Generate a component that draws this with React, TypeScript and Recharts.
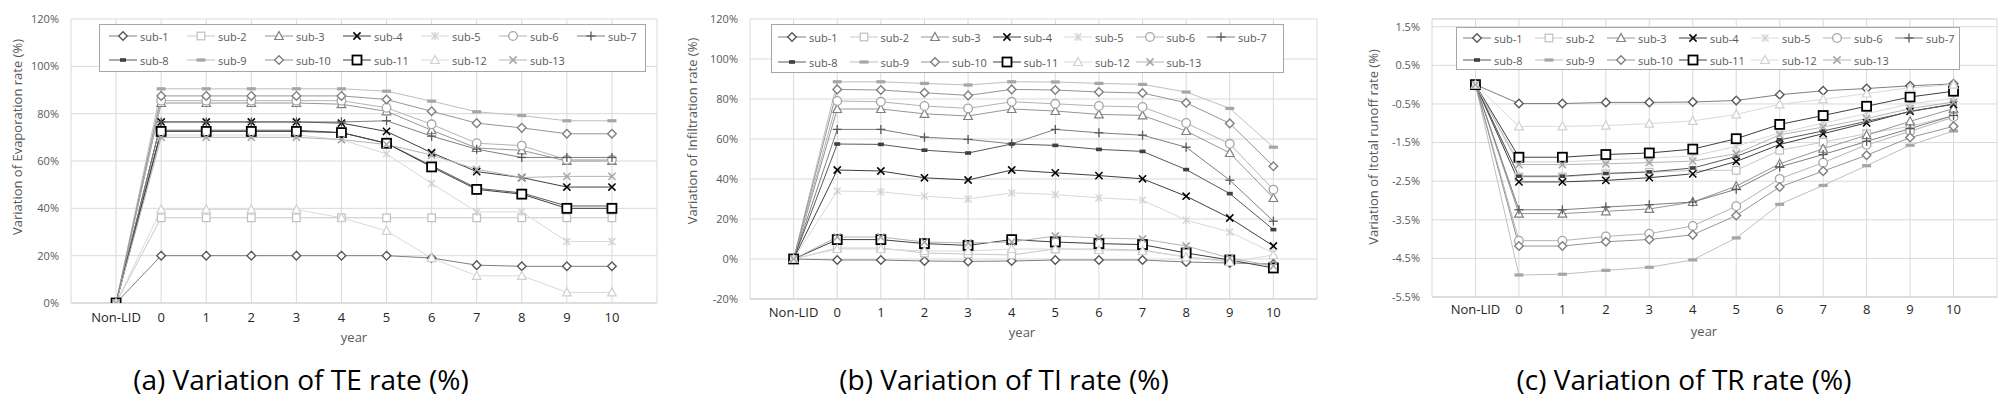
import React from "react";
import { LineChart, Line, XAxis, YAxis, CartesianGrid, ReferenceLine } from "recharts";

// x categories (Non-LID + years 0..10)
const CATEGORIES = ["Non-LID", "0", "1", "2", "3", "4", "5", "6", "7", "8", "9", "10"];
const X_TICKS = [-1, 0, 1, 2, 3, 4, 5, 6, 7, 8, 9, 10, 11, 12];

const SUBS = ["sub-1", "sub-2", "sub-3", "sub-4", "sub-5", "sub-6", "sub-7", "sub-8", "sub-9", "sub-10", "sub-11", "sub-12", "sub-13"];

const TE_TICKS = [0, 20, 40, 60, 80, 100, 120];
const TI_TICKS = [-20, 0, 20, 40, 60, 80, 100, 120];
const TR_TICKS = [-5.5, -4.5, -3.5, -2.5, -1.5, -0.5, 0.5, 1.5];

// (a) variation of evaporation rate (%), one row per sub-catchment
const TE_VALUES = [
  [0, 20, 20, 20, 20, 20, 20, 19, 16, 15.5, 15.5, 15.5],
  [0, 36, 36, 36, 36, 36, 36, 36, 36, 36, 36, 36],
  [0, 84.5, 84.5, 84.5, 84.5, 84, 81, 73, 65.5, 64.5, 60, 60],
  [0, 76.5, 76.5, 76.5, 76.5, 76, 72.5, 63.5, 55.5, 53, 49, 49],
  [0, 71, 71, 71, 71, 69, 63, 50.5, 38.5, 38.5, 26, 26],
  [0, 85.5, 85.5, 85.5, 85.5, 85.5, 82.5, 75.5, 67.5, 66.5, 60.5, 60.5],
  [0, 76.5, 76.5, 76.5, 76.5, 76.5, 77, 70.5, 65, 61.5, 61.5, 61.5],
  [0, 73, 73, 73, 73, 72, 67.5, 58, 48.5, 46.5, 41, 41],
  [0, 90.5, 90.5, 90.5, 90.5, 90.5, 89.5, 85.3, 80.8, 79.2, 77, 77],
  [0, 87.5, 87.5, 87.5, 87.5, 87.5, 86, 81, 76, 74, 71.5, 71.5],
  [0, 72.5, 72.5, 72.5, 72.5, 72, 67.5, 57.5, 48, 46, 40, 40],
  [0, 39.5, 39.5, 39.5, 39.5, 36, 30.5, 19, 11.5, 11.5, 4.5, 4.5],
  [0, 70, 70, 70, 70, 69, 67, 62.5, 56.5, 53, 53.5, 53.5],
];

// (b) variation of infiltration rate (%)
const TI_VALUES = [
  [0, -0.5, -0.5, -1, -1.2, -1, -0.5, -0.5, -0.5, -1.5, -2, -2.5],
  [0, 5.5, 5.5, 3, 2.5, 2, 5, 5, 4.5, 1, -1, -3.5],
  [0, 75, 75, 72.6, 71.5, 75, 74, 72.3, 71.8, 64, 53, 30.5],
  [0, 44.5, 44, 40.6, 39.5, 44.5, 43.1, 41.7, 40.1, 31.4, 20.5, 6.5],
  [0, 34, 33.6, 31.4, 30, 33.1, 32.2, 30.6, 29.4, 19.4, 13.5, 3],
  [0, 79, 78.6, 76.5, 75.3, 78.6, 77.6, 76.5, 76, 68, 57.6, 34.7],
  [0, 64.8, 64.8, 60.9, 59.8, 57.6, 64.8, 63.1, 61.9, 55.9, 39.4, 18.9],
  [0, 57.5, 57.3, 54.4, 53, 57.5, 56.8, 54.8, 53.8, 44.7, 32.7, 14.7],
  [0, 88.6, 88.6, 87.8, 87, 88.6, 88.5, 87.8, 87.3, 83.5, 75.3, 55.9],
  [0, 84.8, 84.5, 83.1, 81.8, 84.8, 84.5, 83.5, 83, 78.1, 67.8, 46.4],
  [0, 9.7, 9.7, 7.7, 6.8, 9.7, 8.5, 7.7, 7.2, 3, -0.5, -4.5],
  [0, 5, 5, 4, 4, 5, 5, 4.5, 4, 1, -1.5, 2],
  [0, 11, 11, 8.5, 8, 8.5, 11.5, 10.5, 10, 6.5, 0.5, -3.5],
];

// (c) variation of total runoff rate (%)
const TR_VALUES = [
  [0, -0.49, -0.49, -0.46, -0.46, -0.45, -0.41, -0.26, -0.16, -0.1, -0.03, 0.02],
  [0, -2.39, -2.39, -2.31, -2.27, -2.22, -2.22, -1.7, -1.49, -1.27, -1.08, -0.8],
  [0, -3.34, -3.34, -3.28, -3.22, -3.04, -2.63, -2.05, -1.66, -1.31, -0.95, -0.62],
  [0, -2.52, -2.52, -2.48, -2.41, -2.31, -1.99, -1.55, -1.27, -0.99, -0.69, -0.51],
  [0, -2.0, -2.0, -1.95, -1.9, -1.85, -1.6, -1.25, -1.0, -0.75, -0.5, -0.35],
  [0, -4.04, -4.04, -3.93, -3.86, -3.66, -3.15, -2.44, -2.02, -1.56, -1.21, -0.84],
  [0, -3.24, -3.24, -3.17, -3.11, -3.04, -2.71, -2.13, -1.81, -1.47, -1.14, -0.8],
  [0, -2.37, -2.37, -2.3, -2.26, -2.16, -1.86, -1.43, -1.2, -0.95, -0.7, -0.5],
  [0, -4.93, -4.91, -4.81, -4.73, -4.54, -3.97, -3.1, -2.61, -2.1, -1.57, -1.2],
  [0, -4.18, -4.18, -4.07, -4.01, -3.89, -3.39, -2.65, -2.24, -1.83, -1.37, -1.08],
  [0, -1.88, -1.88, -1.81, -1.77, -1.67, -1.4, -1.03, -0.8, -0.56, -0.32, -0.17],
  [0, -1.08, -1.08, -1.06, -1.01, -0.94, -0.77, -0.51, -0.38, -0.23, -0.08, 0.0],
  [0, -2.07, -2.07, -2.05, -2.02, -1.98, -1.79, -1.3, -1.1, -0.88, -0.62, -0.45],
];

type Shape = "diamond" | "square" | "triangle" | "x" | "star" | "circle" | "plus" | "dot" | "dash";

const SERIES_STYLE: { shape: Shape; color: string; line: string; bold?: boolean }[] = [
  { shape: "diamond", color: "#595959", line: "#7f7f7f" },
  { shape: "square", color: "#bfbfbf", line: "#c8c8c8" },
  { shape: "triangle", color: "#7f7f7f", line: "#969696" },
  { shape: "x", color: "#000000", line: "#404040" },
  { shape: "star", color: "#d0d0d0", line: "#d9d9d9" },
  { shape: "circle", color: "#a6a6a6", line: "#b4b4b4" },
  { shape: "plus", color: "#595959", line: "#7f7f7f" },
  { shape: "dot", color: "#404040", line: "#595959" },
  { shape: "dash", color: "#a6a6a6", line: "#bfbfbf" },
  { shape: "diamond", color: "#808080", line: "#969696" },
  { shape: "square", color: "#000000", line: "#404040", bold: true },
  { shape: "triangle", color: "#d0d0d0", line: "#dadada" },
  { shape: "x", color: "#a6a6a6", line: "#b4b4b4" },
];

const FONT = "'Open Sans', 'Noto Sans', sans-serif";

function Marker({ shape, cx, cy, color, bold }: { shape: Shape; cx: number; cy: number; color: string; bold?: boolean }) {
  const r = 4.3;
  switch (shape) {
    case "diamond":
      return (
        <polygon
          points={`${cx},${cy - r} ${cx + r},${cy} ${cx},${cy + r} ${cx - r},${cy}`}
          fill="#fff"
          stroke={color}
          strokeWidth={1.4}
        />
      );
    case "square":
      return bold ? (
        <rect x={cx - 4.5} y={cy - 4.5} width={9} height={9} fill="#fff" stroke={color} strokeWidth={1.8} />
      ) : (
        <rect x={cx - 3.8} y={cy - 3.8} width={7.6} height={7.6} fill="#fff" stroke={color} strokeWidth={1.2} />
      );
    case "triangle":
      return (
        <polygon
          points={`${cx},${cy - 4.5} ${cx + 4.3},${cy + 3.5} ${cx - 4.3},${cy + 3.5}`}
          fill="#fff"
          stroke={color}
          strokeWidth={1.2}
        />
      );
    case "x":
      return (
        <g stroke={color} strokeWidth={1.5}>
          <line x1={cx - 3.6} y1={cy - 3.6} x2={cx + 3.6} y2={cy + 3.6} />
          <line x1={cx - 3.6} y1={cy + 3.6} x2={cx + 3.6} y2={cy - 3.6} />
        </g>
      );
    case "star":
      return (
        <g stroke={color} strokeWidth={1.2}>
          <line x1={cx - 3.5} y1={cy - 3.5} x2={cx + 3.5} y2={cy + 3.5} />
          <line x1={cx - 3.5} y1={cy + 3.5} x2={cx + 3.5} y2={cy - 3.5} />
          <line x1={cx} y1={cy - 4} x2={cx} y2={cy + 4} />
        </g>
      );
    case "circle":
      return <circle cx={cx} cy={cy} r={4.3} fill="#fff" stroke={color} strokeWidth={1.3} />;
    case "plus":
      return (
        <g stroke={color} strokeWidth={1.3}>
          <line x1={cx - 4.5} y1={cy} x2={cx + 4.5} y2={cy} />
          <line x1={cx} y1={cy - 4.5} x2={cx} y2={cy + 4.5} />
        </g>
      );
    case "dot":
      return <rect x={cx - 3} y={cy - 1.8} width={6} height={3.6} fill={color} />;
    case "dash":
      return <rect x={cx - 4.5} y={cy - 1.6} width={9} height={3.2} fill={color} />;
  }
  return null;
}

type PanelProps = {
  left: number;
  width: number;
  rightMargin: number;
  yAxisWidth: number;
  xAxisHeight: number;
  xTickMargin: number;
  domain: [number, number];
  ticks: number[];
  fmt: (v: number) => string;
  topLine?: number;
  values: number[][];
  yTitle: string;
  yTitlePos: [number, number];
  yearPos: [number, number];
  legend: { left: number; top: number; width: number; height: number; pad: number; pitch: number; rows: [number, number] };
};

function Panel(p: PanelProps) {
  const data = CATEGORIES.map((name, i) => {
    const row: Record<string, number | string> = { x: i, name };
    SUBS.forEach((s, j) => {
      row[s] = p.values[j][i];
    });
    return row;
  });

  return (
    <div style={{ position: "absolute", left: p.left, top: 0, width: p.width, height: 345 }}>
      <LineChart
        width={p.width}
        height={345}
        data={data}
        margin={{ top: 19, right: p.rightMargin, left: 0, bottom: 0 }}
        style={{ fontFamily: FONT }}
      >
        <CartesianGrid stroke="#d9d9d9" />
        <XAxis
          dataKey="x"
          type="number"
          domain={[-1, 12]}
          ticks={X_TICKS}
          interval={0}
          allowDataOverflow
          tickFormatter={(v: number) => CATEGORIES[v] ?? ""}
          height={p.xAxisHeight}
          tickSize={0}
          tickMargin={p.xTickMargin}
          axisLine={{ stroke: "#d0d0d0" }}
          tick={{ fill: "#262626", fontSize: 13 }}
          label={{
            content: () => (
              <text x={p.yearPos[0]} y={p.yearPos[1]} textAnchor="middle" dominantBaseline="central" fill="#595959" fontSize={13}>
                year
              </text>
            ),
          }}
        />
        <YAxis
          type="number"
          domain={p.domain}
          ticks={p.ticks}
          interval={0}
          allowDataOverflow
          width={p.yAxisWidth}
          tickSize={0}
          tickMargin={12}
          axisLine={false}
          tickFormatter={p.fmt}
          tick={{ fill: "#595959", fontSize: 11 }}
          label={{
            content: () => (
              <text
                x={p.yTitlePos[0]}
                y={p.yTitlePos[1]}
                transform={`rotate(-90, ${p.yTitlePos[0]}, ${p.yTitlePos[1]})`}
                textAnchor="middle"
                dominantBaseline="central"
                fill="#595959"
                fontSize={13}
              >
                {p.yTitle}
              </text>
            ),
          }}
        />
        {p.topLine !== undefined && <ReferenceLine y={p.topLine} stroke="#d9d9d9" />}
        {SUBS.map((s, j) => {
          const st = SERIES_STYLE[j];
          return (
            <Line
              key={s}
              dataKey={s}
              stroke={st.line}
              strokeWidth={1}
              isAnimationActive={false}
              activeDot={false}
              dot={(d: { cx?: number; cy?: number; index?: number }) => (
                <g key={`${s}-${d.index}`}>
                  <Marker shape={st.shape} cx={d.cx ?? 0} cy={d.cy ?? 0} color={st.color} bold={st.bold} />
                </g>
              )}
            />
          );
        })}
      </LineChart>

      <div
        style={{
          position: "absolute",
          left: p.legend.left,
          top: p.legend.top,
          width: p.legend.width,
          height: p.legend.height,
          border: "1px solid #a6a6a6",
          background: "#fff",
          boxSizing: "border-box",
          fontFamily: FONT,
          fontSize: 11,
          color: "#595959",
        }}
      >
        {SUBS.map((s, j) => {
          const st = SERIES_STYLE[j];
          const col = j % 7;
          const row = Math.floor(j / 7);
          return (
            <div
              key={s}
              style={{
                position: "absolute",
                left: p.legend.pad + col * p.legend.pitch,
                top: p.legend.rows[row] - 8,
                height: 16,
                display: "flex",
                alignItems: "center",
                whiteSpace: "nowrap",
              }}
            >
              <svg width={28} height={14} style={{ display: "block" }}>
                <line x1={0} y1={7} x2={28} y2={7} stroke={st.line} strokeWidth={1} />
                <Marker shape={st.shape} cx={14} cy={7} color={st.color} bold={st.bold} />
              </svg>
              <span style={{ marginLeft: 3 }}>{s}</span>
            </div>
          );
        })}
      </div>
    </div>
  );
}

const pct = (v: number) => `${v}%`;
const pct1 = (v: number) => `${v.toFixed(1)}%`;

const captionStyle: React.CSSProperties = {
  position: "absolute",
  top: 362,
  width: 460,
  height: 34,
  textAlign: "center",
  fontFamily: FONT,
  fontSize: 28,
  lineHeight: "34px",
  color: "#000",
  whiteSpace: "nowrap",
};

export default function App() {
  return (
    <div style={{ position: "absolute", left: 0, top: 0, width: 2008, height: 398, background: "#fff", overflow: "hidden" }}>
      <Panel
        left={0}
        width={670}
        rightMargin={13}
        yAxisWidth={71}
        xAxisHeight={42}
        xTickMargin={10}
        domain={[0, 120]}
        ticks={TE_TICKS}
        fmt={pct}
        values={TE_VALUES}
        yTitle="Variation of Evaporation rate (%)"
        yTitlePos={[17, 137]}
        yearPos={[354, 337]}
        legend={{ left: 99, top: 24, width: 547, height: 48, pad: 9, pitch: 78, rows: [11, 35] }}
      />
      <Panel
        left={670}
        width={670}
        rightMargin={23}
        yAxisWidth={80}
        xAxisHeight={46}
        xTickMargin={9}
        domain={[-20, 120]}
        ticks={TI_TICKS}
        fmt={pct}
        values={TI_VALUES}
        yTitle="Variation of Infiltration rate (%)"
        yTitlePos={[22, 131]}
        yearPos={[352, 332]}
        legend={{ left: 101, top: 24, width: 513, height: 49, pad: 6, pitch: 71.5, rows: [12, 37] }}
      />
      <Panel
        left={1340}
        width={668}
        rightMargin={11}
        yAxisWidth={92}
        xAxisHeight={48}
        xTickMargin={8}
        domain={[-5.5, 1.7]}
        ticks={TR_TICKS}
        fmt={pct1}
        topLine={1.7}
        values={TR_VALUES}
        yTitle="Variation of Itotal runoff rate (%)"
        yTitlePos={[33, 147]}
        yearPos={[364, 331]}
        legend={{ left: 116, top: 27, width: 504, height: 43, pad: 6, pitch: 72, rows: [10, 32] }}
      />
      <div style={{ ...captionStyle, left: 301 - 230 }}>(a) Variation of TE rate (%)</div>
      <div style={{ ...captionStyle, left: 1004 - 230 }}>(b) Variation of TI rate (%)</div>
      <div style={{ ...captionStyle, left: 1684 - 230 }}>(c) Variation of TR rate (%)</div>
    </div>
  );
}
